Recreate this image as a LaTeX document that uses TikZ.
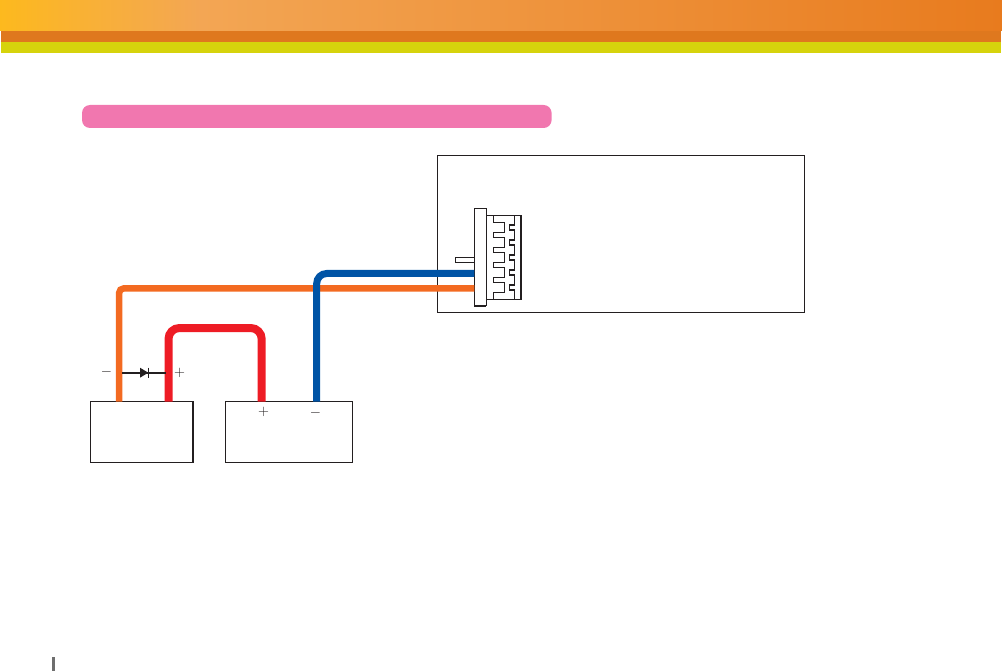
\documentclass[tikz,border=0pt]{standalone}
\usetikzlibrary{arrows.meta}
\definecolor{hdrleft}{HTML}{FDB91E}
\definecolor{hdrmid}{HTML}{F3A654}
\definecolor{hdrright}{HTML}{E87B1E}
\definecolor{hdrband}{HTML}{DF781E}
\definecolor{hdryellow}{HTML}{D6D30C}
\definecolor{titlepink}{HTML}{F177AF}
\definecolor{wireorange}{HTML}{F36A21}
\definecolor{wirered}{HTML}{EE1C25}
\definecolor{wireblue}{HTML}{0054A6}
\definecolor{inkline}{HTML}{231F20}
\tikzset{
    band/.style={inner sep=0pt, outer sep=0pt, minimum height=#1, anchor=north west},
    frame/.style={draw=inkline, line width=1pt, inner sep=0pt, outer sep=0pt, fill=white},
    wire/.style={line width=7pt, rounded corners=#1},
    pole/.style={inner sep=0pt, text=inkline, font=\fontsize{15}{15}\selectfont},
}
\begin{document}
\begin{tikzpicture}[x=1pt, y=-1pt]
    \useasboundingbox (0,0) rectangle (1002,671);

    \node[band=31pt, minimum width=200.4pt, left color=hdrleft, right color=hdrmid] (hdrA) at (0,0) {};
    \node[band=31pt, minimum width=802pt, left color=hdrmid, right color=hdrright] (hdrB) at (200,0) {};
    \node[band=11pt, minimum width=1000pt, fill=hdrband] (hdrC) at (1,31) {};
    \node[band=11pt, minimum width=1000pt, fill=hdryellow] (hdrD) at (1,42) {};
    \node[band=23pt, minimum width=469.6pt, fill=titlepink, rounded corners=8pt] (title) at (82,105) {};
    \node[band=14pt, minimum width=3pt, fill=black!57] (tick) at (52,657) {};

    \node[frame, band=157pt, minimum width=367pt] (panel) at (437.5,155.5) {};
    \node[frame, band=61pt, minimum width=102.5pt] (batA) at (90.5,401.5) {};
    \node[frame, band=61pt, minimum width=127pt] (batB) at (225.5,401.5) {};

    \node[frame, band=5.4pt, minimum width=19pt] (tab) at (455.5,257.4) {};
    \node[frame, band=84pt, minimum width=35pt] (body) at (486,215.4) {};
    \node[frame, band=97.5pt, minimum width=12pt] (plate) at (474.4,208.4) {};

    \coordinate (orangeEnd) at (plate.west |- 0,288.3);
    \coordinate (blueEnd) at (plate.west |- 0,273.5);
    \coordinate (orangeTop) at (119,288.3);
    \coordinate (orangeFoot) at (119,0 |- batA.north);
    \coordinate (redFootA) at (168.5,0 |- batA.north);
    \coordinate (redFootB) at (261.7,0 |- batB.north);
    \coordinate (blueFoot) at (316.7,0 |- batB.north);
    \coordinate (diodeA) at (122,372.7);
    \coordinate (diodeB) at (166,372.7);

    \node[pole] (minusA) at (106.5,372) {$-$};
    \node[pole] (plusA) at (179.5,372.4) {$+$};
    \node[pole] (plusB) at (263.5,412.2) {$+$};
    \node[pole] (minusB) at (315.5,413.2) {$-$};

    %%%%%%%%%%%%%%%%%%%%%%%%%%%%%%%%%%%%%%%%

    \draw[wire=5pt, draw=wireorange, line width=6.5pt] (orangeFoot) -- (orangeTop) -- (orangeEnd);
    \draw[wire=10pt, draw=wireblue] (blueFoot) -- (316.7,273.5) -- (blueEnd);
    \draw[wire=11pt, draw=wirered, line width=8pt] (redFootA) -- (168.5,328) -- (261.7,328) -- (redFootB);

    \draw[inkline, line width=1.8pt] (diodeA) -- (diodeB);
    \fill[inkline] (140,367.7) -- (148.3,372.7) -- (140,377.7) -- cycle;
    \draw[inkline, line width=0.7pt] (148.3,367.7) -- (148.3,377.7);

    \draw[inkline, line width=1.2pt] (493.3,0 |- body.north) -- (493.3,222.5) -- (504.7,222.5) -- (504.7,232.5)
        -- (493.3,232.5) -- (493.3,237.5) -- (504.7,237.5) -- (504.7,247.5)
        -- (493.3,247.5) -- (493.3,252.5) -- (504.7,252.5) -- (504.7,262.5)
        -- (493.3,262.5) -- (493.3,267.5) -- (504.7,267.5) -- (504.7,277.5)
        -- (493.3,277.5) -- (493.3,282.5) -- (504.7,282.5) -- (504.7,292.5)
        -- (493.3,292.5) -- (493.3,299.4);
    \draw[inkline, line width=1.2pt] (514.3,215.4) -- (514.3,225) -- (509.3,225) -- (509.3,230) -- (514.3,230)
        -- (514.3,240) -- (509.3,240) -- (509.3,245) -- (514.3,245)
        -- (514.3,255) -- (509.3,255) -- (509.3,260) -- (514.3,260)
        -- (514.3,270) -- (509.3,270) -- (509.3,275) -- (514.3,275)
        -- (514.3,285) -- (509.3,285) -- (509.3,290) -- (514.3,290) -- (514.3,299.4);

    \draw[inkline, line width=2pt] (body.north east) -- (body.south east);
    \draw[inkline, line width=2pt] (plate.south west) -- (plate.south east);
    \draw[inkline, line width=2pt] (batA.north east) -- (batA.south east);

\end{tikzpicture}
\end{document}
